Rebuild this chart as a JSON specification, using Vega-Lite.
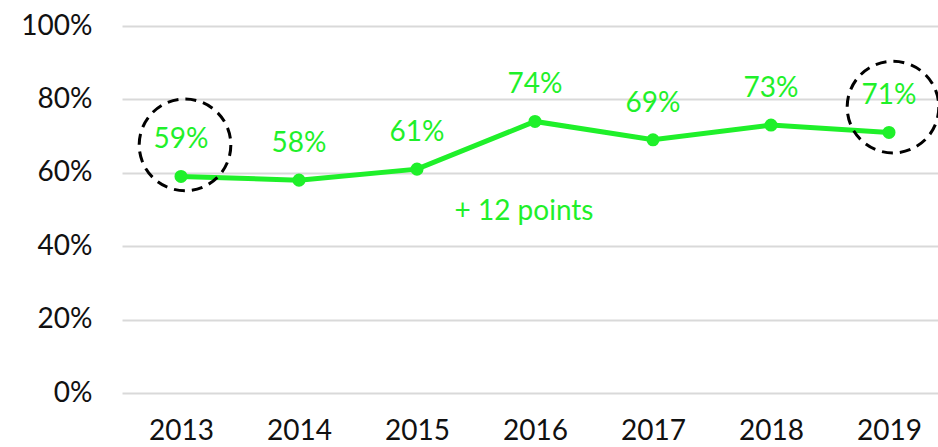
{
  "$schema": "https://vega.github.io/schema/vega-lite/v6.json",
  "width": 826,
  "height": 367,
  "autosize": {"type": "none"},
  "padding": {"left": 122, "top": 26, "right": 0, "bottom": 54},
  "background": "white",
  "config": {
    "view": {"stroke": null},
    "font": "Lato",
    "axis": {"labelFont": "Lato", "labelFontSize": 28, "labelColor": "#111111", "domain": false, "ticks": false, "title": null}
  },
  "datasets": {
    "main": [
      {"year": "2013", "value": 0.59},
      {"year": "2014", "value": 0.58},
      {"year": "2015", "value": 0.61},
      {"year": "2016", "value": 0.74},
      {"year": "2017", "value": 0.69},
      {"year": "2018", "value": 0.73},
      {"year": "2019", "value": 0.71}
    ],
    "circles": [
      {"year": "2013", "center": 0.676},
      {"year": "2019", "center": 0.779}
    ],
    "note": [
      {"year": "2016", "value": 0.493, "label": "+ 12 points"}
    ]
  },
  "encoding": {
    "x": {"field": "year", "type": "ordinal", "scale": {"type": "point", "padding": 0.5},
      "axis": {"labelAngle": 0, "labelPadding": 24, "grid": false}},
    "y": {"field": "value", "type": "quantitative", "scale": {"domain": [0, 1]},
      "axis": {"values": [0, 0.2, 0.4, 0.6, 0.8, 1], "format": ".0%", "labelPadding": 30, "grid": true, "gridColor": "#d9d9d9", "gridWidth": 2}}
  },
  "layer": [
    {
      "data": {"name": "main"},
      "mark": {"type": "line", "color": "#1ff02a", "strokeWidth": 5}
    },
    {
      "data": {"name": "main"},
      "mark": {"type": "point", "filled": true, "color": "#1ff02a", "size": 170, "opacity": 1}
    },
    {
      "data": {"name": "main"},
      "mark": {"type": "text", "color": "#1ff02a", "fontSize": 28, "dy": -36, "baseline": "middle", "align": "center"},
      "encoding": {"text": {"field": "value", "type": "quantitative", "format": ".0%"}}
    },
    {
      "data": {"name": "circles"},
      "mark": {"type": "point", "shape": "circle", "filled": false, "stroke": "black", "strokeWidth": 3, "strokeDash": [11, 7], "size": 8400, "opacity": 1, "xOffset": 4},
      "encoding": {"y": {"field": "center", "type": "quantitative"}}
    },
    {
      "data": {"name": "note"},
      "mark": {"type": "text", "color": "#1ff02a", "fontSize": 28, "baseline": "middle", "align": "center", "dx": -11},
      "encoding": {"text": {"field": "label"}}
    }
  ]
}
